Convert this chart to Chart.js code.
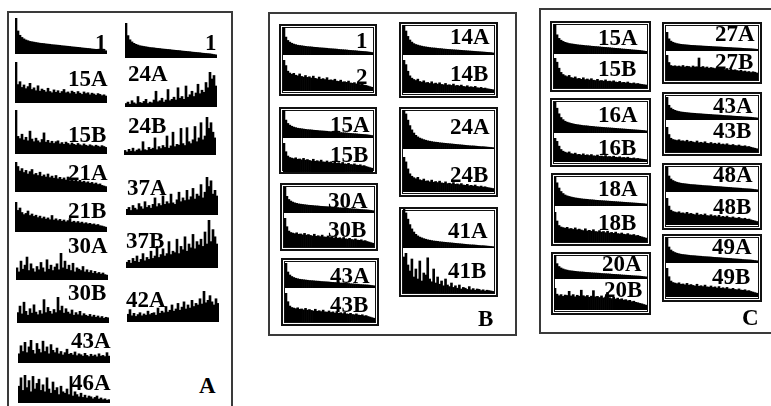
<!DOCTYPE html>
<html>
<head>
<meta charset="utf-8">
<script src="https://cdn.jsdelivr.net/npm/chart.js@4.4.1/dist/chart.umd.min.js"></script>
<style>
  body { margin: 0; background: #fff; }
  #page { position: relative; width: 771px; height: 406px; overflow: hidden; background: #fff; }
  .panel { position: absolute; box-sizing: border-box; border: 2px solid #3a3a3a; }
  .box { position: absolute; box-sizing: border-box; border: 2px solid #111;
         box-shadow: inset 0 0 0 1px #fff, inset 0 0 0 2px #111; }
  .lbl { position: absolute; font-family: "Liberation Serif", "DejaVu Serif", serif;
         font-weight: bold; font-size: 23px; line-height: 23px; color: #000; white-space: nowrap; }
  canvas { position: absolute; }
</style>
</head>
<body>
<div id="page"></div>
<script>
// smooth decays (the "A" rows)
let decaySmooth = [100, 64, 52, 46, 42, 39, 37, 35, 34, 33, 32, 31, 30, 29.5, 29, 28, 27.5, 27, 26, 25.5,
  25, 24.5, 24, 23, 22.5, 22, 21.5, 21, 20, 19.5, 19, 18.5, 18, 17, 16.5, 16, 15.5, 15, 14, 13.5,
  13, 12.5, 12, 11, 10, 9]
let decayMid = [100, 80, 62, 50, 43, 38, 35, 33, 31, 29.5, 28, 27, 26, 25, 24, 23.5, 23, 22, 21.5, 21,
  20, 19.5, 19, 18.5, 18, 17.5, 17, 16.5, 16, 15.5, 15, 14.5, 14, 13.5, 13, 12.5, 12, 11.5, 11, 10.5,
  10, 9.5, 9, 8.5, 8, 7]
let decaySteep = [100, 90, 74, 60, 49, 41, 35, 31, 28, 26, 24, 22.5, 21, 20, 19, 18, 17.5, 17, 16, 15.5,
  15, 14.5, 14, 13.5, 13, 12.5, 12, 11.5, 11, 10.5, 10, 9.5, 9, 8.5, 8, 8, 7.5, 7, 6.5, 6,
  6, 5.5, 5, 4.5, 4, 3.5]
// noisy decays (the "B" rows)
let noisy1 = [100, 82, 64, 58, 54, 57, 51, 49, 55, 47, 45, 50, 44, 46, 42, 48, 41, 39, 45, 38,
  40, 37, 43, 35, 36, 34, 38, 32, 31, 35, 29, 30, 28, 32, 26, 25, 27, 23, 24, 21, 22, 19, 18, 16, 14, 12]
let noisy2 = [100, 86, 66, 52, 45, 41, 38, 42, 35, 33, 37, 31, 32, 29, 34, 28, 30, 27, 31, 26,
  25, 29, 24, 25, 23, 27, 22, 23, 21, 24, 20, 19, 22, 18, 19, 17, 20, 16, 15, 17, 14, 15, 13, 12, 11, 10]
let noisy3 = [100, 70, 55, 50, 48, 46, 49, 44, 45, 42, 47, 41, 43, 40, 38, 44, 37, 39, 36, 41,
  35, 34, 38, 33, 35, 31, 36, 30, 32, 29, 33, 28, 27, 30, 26, 25, 28, 24, 23, 25, 21, 22, 19, 17, 15, 13]
let b41B = [90, 100, 70, 55, 85, 40, 60, 35, 80, 30, 50, 45, 88, 35, 28, 60, 25, 40, 22, 30,
  18, 35, 20, 16, 25, 14, 18, 12, 20, 10, 14, 12, 9, 16, 8, 11, 7, 10, 9, 6, 8, 5, 7, 6, 5, 4]
let c27B = [100, 70, 58, 55, 57, 54, 56, 53, 58, 52, 55, 54, 50, 56, 52, 53, 88, 51, 54, 49,
  52, 47, 50, 48, 46, 49, 44, 47, 45, 42, 46, 40, 43, 39, 41, 38, 36, 39, 34, 36, 32, 34, 30, 33, 31, 28]
let c20B = [100, 72, 65, 70, 62, 68, 66, 85, 64, 70, 60, 67, 63, 90, 65, 61, 66, 58, 63, 88,
  60, 62, 57, 64, 55, 59, 80, 56, 52, 58, 50, 54, 48, 51, 45, 47, 42, 44, 38, 40, 35, 33, 30, 28, 25, 22]
// panel A
let a15A = [100, 45, 52, 38, 44, 35, 40, 48, 33, 37, 30, 42, 29, 34, 31, 27, 36, 28, 25, 32,
  26, 30, 24, 28, 33, 25, 27, 23, 29, 26, 22, 28, 24, 21, 27, 23, 25, 20, 24, 22, 19, 23, 21, 18, 20, 17]
let a15B = [100, 40, 35, 45, 32, 38, 30, 52, 34, 28, 36, 30, 26, 33, 48, 27, 31, 25, 29, 24,
  28, 30, 23, 26, 22, 27, 24, 21, 25, 22, 20, 24, 21, 19, 23, 20, 18, 21, 19, 17, 20, 18, 16, 19, 17, 15]
let a21A = [100, 85, 70, 78, 65, 72, 60, 68, 75, 58, 62, 55, 66, 52, 57, 50, 60, 48, 53, 46,
  55, 44, 49, 42, 47, 40, 50, 38, 43, 37, 41, 35, 39, 33, 36, 31, 34, 29, 32, 27, 30, 25, 27, 22, 20, 18]
let a21B = [100, 72, 80, 65, 58, 62, 70, 55, 60, 52, 56, 48, 53, 45, 50, 43, 47, 41, 55, 40,
  44, 38, 42, 36, 40, 34, 38, 45, 33, 36, 31, 35, 30, 33, 28, 31, 27, 29, 25, 27, 23, 25, 21, 20, 18, 16]
let a30A = [45, 30, 70, 40, 55, 85, 35, 60, 42, 30, 50, 38, 65, 45, 30, 75, 40, 55, 35, 48,
  60, 38, 100, 45, 70, 40, 55, 35, 62, 30, 45, 40, 35, 50, 30, 38, 28, 35, 25, 32, 24, 28, 22, 26, 20, 18]
let a30B = [40, 65, 35, 80, 45, 30, 55, 38, 70, 42, 32, 48, 35, 90, 40, 60, 45, 35, 52, 40,
  100, 48, 65, 38, 55, 42, 35, 50, 30, 40, 32, 45, 28, 36, 30, 26, 33, 24, 30, 22, 27, 20, 25, 18, 22, 20]
let a43A = [40, 75, 50, 90, 45, 70, 100, 55, 40, 85, 60, 45, 95, 50, 70, 40, 80, 55, 45, 65,
  40, 50, 35, 45, 60, 38, 42, 35, 48, 32, 40, 36, 30, 42, 33, 28, 38, 30, 35, 27, 40, 30, 33, 28, 45, 30]
let a46A = [60, 90, 45, 100, 55, 80, 40, 95, 50, 70, 85, 45, 65, 40, 90, 50, 35, 75, 45, 55,
  30, 60, 40, 35, 50, 30, 95, 25, 40, 30, 22, 35, 20, 28, 18, 25, 22, 15, 20, 25, 14, 18, 12, 15, 10, 12]
let a24A = [10, 14, 8, 18, 12, 9, 30, 13, 11, 16, 22, 10, 14, 12, 20, 45, 15, 18, 25, 14,
  20, 50, 18, 22, 28, 20, 55, 25, 30, 22, 60, 28, 35, 45, 30, 40, 65, 38, 48, 42, 70, 55, 100, 80, 90, 60]
let a24B = [12, 8, 15, 10, 18, 9, 13, 16, 11, 35, 14, 12, 20, 15, 18, 45, 14, 22, 17, 25,
  20, 50, 18, 24, 60, 22, 28, 26, 70, 30, 25, 72, 35, 30, 40, 75, 35, 45, 85, 40, 50, 100, 70, 85, 60, 45]
let a37A = [15, 20, 12, 25, 18, 14, 30, 22, 16, 35, 20, 25, 18, 28, 45, 22, 30, 25, 50, 28,
  35, 30, 55, 32, 28, 40, 60, 35, 45, 38, 65, 40, 48, 70, 42, 55, 50, 80, 45, 60, 100, 75, 90, 55, 65, 50]
let a37B = [12, 16, 10, 20, 14, 25, 12, 18, 30, 15, 22, 18, 35, 20, 25, 45, 22, 28, 40, 25,
  30, 55, 28, 35, 32, 60, 30, 45, 38, 65, 35, 50, 42, 70, 40, 55, 48, 60, 45, 75, 50, 100, 55, 80, 65, 50]
let a42A = [25, 40, 20, 28, 18, 24, 30, 20, 26, 22, 35, 24, 28, 30, 22, 45, 28, 35, 30, 50,
  32, 38, 55, 35, 42, 60, 38, 48, 65, 42, 55, 45, 70, 50, 60, 55, 75, 58, 100, 62, 70, 85, 65, 55, 75, 60]

let page = document.getElementById('page')

function addDiv(cls, x, y, w, h) {
  let d = document.createElement('div')
  d.className = cls
  d.style.left = x + 'px'; d.style.top = y + 'px'
  d.style.width = w + 'px'; d.style.height = h + 'px'
  page.appendChild(d)
}

function label(text, x, capTop) {
  let d = document.createElement('div')
  d.className = 'lbl'
  d.textContent = text
  d.style.left = x + 'px'
  d.style.top = (capTop - 4) + 'px'
  page.appendChild(d)
}

function mini(values, x, y, w, h) {
  let c = document.createElement('canvas')
  c.width = w; c.height = h
  c.style.left = x + 'px'; c.style.top = y + 'px'
  page.appendChild(c)
  new Chart(c.getContext('2d'), {
    type: 'bar',
    data: {
      labels: values.map((v, i) => i),
      datasets: [{
        data: values,
        backgroundColor: '#000',
        borderWidth: 0,
        barPercentage: 1,
        categoryPercentage: 1
      }]
    },
    options: {
      responsive: false,
      animation: false,
      devicePixelRatio: 1,
      layout: { padding: 0 },
      plugins: { legend: { display: false }, tooltip: { enabled: false } },
      scales: {
        x: { display: false },
        y: { display: false, min: 0, max: 100 }
      }
    }
  })
}

// panels
addDiv('panel', 7, 11, 226, 420)
addDiv('panel', 268, 12, 249, 324)
addDiv('panel', 539, 8, 240, 326)

// panel B boxes
addDiv('box', 279, 24, 98, 72)
addDiv('box', 399, 22, 99, 76)
addDiv('box', 279, 107, 98, 67)
addDiv('box', 399, 107, 99, 90)
addDiv('box', 280, 183, 98, 68)
addDiv('box', 281, 258, 98, 68)
addDiv('box', 399, 207, 99, 90)
// panel C boxes
addDiv('box', 550, 21, 101, 71)
addDiv('box', 662, 22, 100, 62)
addDiv('box', 550, 98, 101, 69)
addDiv('box', 662, 92, 100, 64)
addDiv('box', 551, 173, 100, 73)
addDiv('box', 662, 163, 100, 67)
addDiv('box', 551, 252, 100, 63)
addDiv('box', 662, 234, 100, 68)

// [label, values, x, y, w, h, labelX, labelY]
let layout = [
  // A left
  ['1', decaySmooth, 15, 18, 92, 36, 95, 35],
  ['15A', a15A, 15, 62, 92, 41, 68, 71],
  ['15B', a15B, 15, 110, 92, 44, 68, 127],
  ['21A', a21A, 15, 162, 92, 30, 68, 165],
  ['21B', a21B, 15, 202, 92, 30, 68, 203],
  ['30A', a30A, 16, 253, 92, 27, 68, 238],
  ['30B', a30B, 17, 297, 92, 26, 68, 285],
  ['43A', a43A, 18, 340, 92, 23, 71, 333],
  ['46A', a46A, 18, 375, 92, 28, 71, 375],
  // A right
  ['1', decaySmooth, 125, 23, 92, 35, 205, 35],
  ['24A', a24A, 125, 72, 92, 35, 128, 66],
  ['24B', a24B, 124, 117, 92, 38, 128, 118],
  ['37A', a37A, 126, 177, 92, 38, 127, 180],
  ['37B', a37B, 126, 220, 92, 48, 126, 233],
  ['42A', a42A, 127, 291, 92, 31, 126, 292],
  // B
  ['1', decaySmooth, 283, 27, 90, 28, 356, 33],
  ['2', noisy1, 283, 60, 90, 31, 356, 69],
  ['14A', decayMid, 403, 25, 91, 30, 450, 29],
  ['14B', noisy2, 403, 60, 91, 33, 450, 66],
  ['15A', decaySmooth, 283, 110, 90, 28, 330, 117],
  ['15B', noisy3, 283, 143, 90, 29, 330, 147],
  ['24A', decaySteep, 403, 110, 91, 39, 450, 119],
  ['24B', noisy2, 403, 157, 91, 35, 450, 167],
  ['30A', decaySmooth, 284, 187, 90, 26, 328, 193],
  ['30B', noisy3, 284, 218, 90, 29, 328, 222],
  ['43A', decaySmooth, 285, 263, 90, 25, 330, 268],
  ['43B', noisy3, 285, 293, 90, 29, 330, 297],
  ['41A', decaySteep, 403, 209, 91, 39, 448, 223],
  ['41B', b41B, 403, 253, 91, 40, 448, 263],
  // C
  ['15A', decaySmooth, 554, 24, 93, 30, 598, 30],
  ['15B', noisy2, 554, 58, 93, 30, 598, 61],
  ['27A', decaySmooth, 666, 32, 92, 19, 715, 26],
  ['27B', c27B, 666, 55, 92, 25, 715, 54],
  ['16A', decayMid, 554, 102, 93, 31, 598, 107],
  ['16B', noisy2, 554, 138, 93, 24, 598, 140],
  ['43A', decaySmooth, 666, 97, 92, 23, 713, 98],
  ['43B', noisy3, 666, 127, 92, 25, 713, 123],
  ['18A', decayMid, 554, 177, 93, 29, 598, 181],
  ['18B', noisy3, 554, 212, 93, 30, 598, 215],
  ['48A', decaySmooth, 666, 167, 92, 25, 713, 167],
  ['48B', noisy3, 666, 198, 92, 27, 713, 199],
  ['20A', decaySmooth, 554, 255, 93, 24, 602, 256],
  ['20B', c20B, 554, 288, 93, 22, 604, 282],
  ['49A', decaySmooth, 666, 238, 92, 25, 712, 239],
  ['49B', noisy3, 666, 268, 92, 29, 712, 269]
]

layout.forEach(p => mini(p[1], p[2], p[3], p[4], p[5]))
layout.forEach(p => label(p[0], p[6], p[7]))

label('A', 199, 378)
label('B', 478, 311)
label('C', 742, 310)
</script>
</body>
</html>
